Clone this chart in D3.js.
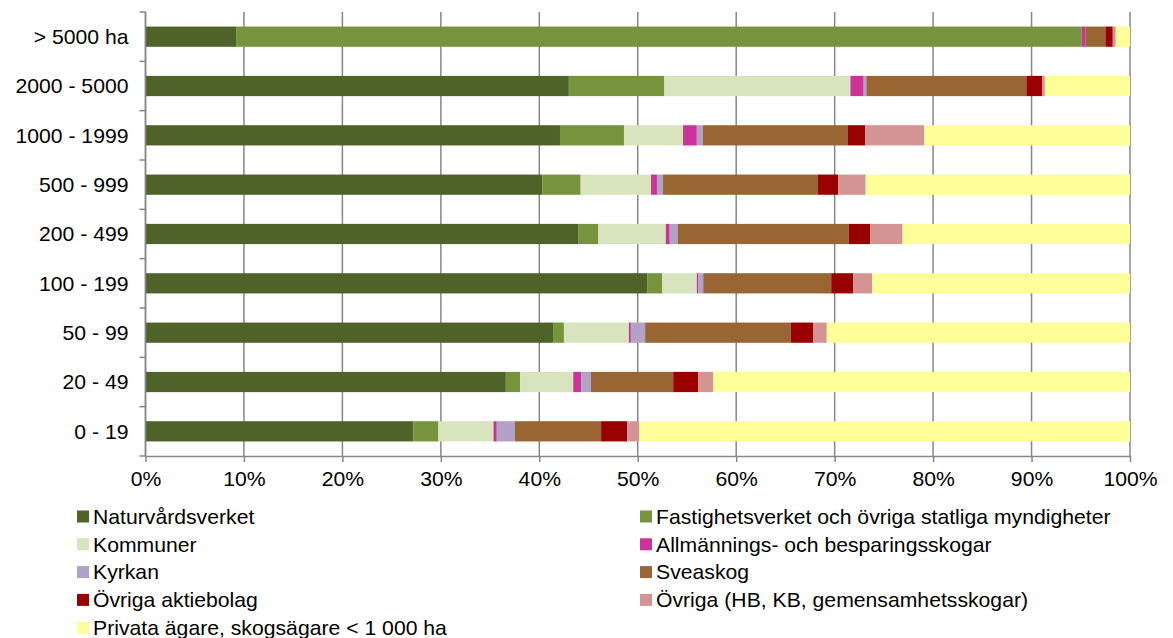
<!DOCTYPE html>
<html>
<head>
<meta charset="utf-8">
<script src="https://cdn.jsdelivr.net/npm/d3@7"></script>
<style>
  body { margin: 0; background: #fff; }
  svg text { font-family: "Liberation Sans", Arial, sans-serif; fill: #000; }
</style>
</head>
<body>
<div id="chart"></div>
<script>
// data (percent of area per size class)
const categories = ["> 5000 ha", "2000 - 5000", "1000 - 1999", "500 - 999", "200 - 499", "100 - 199", "50 - 99", "20 - 49", "0 - 19"];
const seriesNames = [
  "Naturvårdsverket",
  "Fastighetsverket och övriga statliga myndigheter",
  "Kommuner",
  "Allmännings- och besparingsskogar",
  "Kyrkan",
  "Sveaskog",
  "Övriga aktiebolag",
  "Övriga (HB, KB, gemensamhetsskogar)",
  "Privata ägare, skogsägare < 1 000 ha"
];
const naturvardsverket = [9.2, 43.0, 42.1, 40.3, 44.0, 51.0, 41.4, 36.6, 27.2];
const fastighetsverket = [85.9, 9.7, 6.5, 3.9, 2.0, 1.5, 1.1, 1.45, 2.55];
const kommuner        = [0, 18.9, 6.0, 7.15, 6.85, 3.5, 6.6, 5.4, 5.6];
const allmanningar    = [0.35, 1.35, 1.4, 0.6, 0.4, 0.17, 0.2, 0.8, 0.33];
const kyrkan          = [0, 0.27, 0.6, 0.6, 0.8, 0.48, 1.45, 1.0, 1.85];
const sveaskog        = [2.05, 16.25, 14.7, 15.75, 17.4, 13.0, 14.8, 8.35, 8.75];
const ovrigaAB        = [0.75, 1.6, 1.8, 2.05, 2.15, 2.25, 2.25, 2.55, 2.65];
const ovriga          = [0.3, 0.28, 6.0, 2.8, 3.3, 1.9, 1.4, 1.5, 1.2];
const privata         = [1.45, 8.65, 20.9, 26.85, 23.1, 26.2, 30.8, 42.35, 49.87];
const tickValues = [0, 0.1, 0.2, 0.3, 0.4, 0.5, 0.6, 0.7, 0.8, 0.9, 1];

const colors = ["#4f6228", "#77933c", "#d7e4bd", "#cc3399", "#b3a2c7", "#996633", "#990000", "#d49494", "#ffff99"];
const seriesValues = [naturvardsverket, fastighetsverket, kommuner, allmanningar, kyrkan, sveaskog, ovrigaAB, ovriga, privata];

// rows for d3.stack
const rows = categories.map((c, i) => {
  const r = { cat: c };
  seriesNames.forEach((s, j) => r[s] = seriesValues[j][i]);
  return r;
});

// measures
const W = 1173, H = 638;
const margin = { top: 12, left: 145.5, right: 43, bottom: 182 };
const width = W - margin.left - margin.right;
const height = H - margin.top - margin.bottom;
const fontSize = 20;
const stretch = 1.06; // the original text is a bit wider than Arial

const svg = d3.select("#chart")
  .append("svg")
    .attr("width", W)
    .attr("height", H);

const g = svg.append("g")
    .attr("transform", `translate(${margin.left},${margin.top})`);

const x = d3.scaleLinear().domain([0, 1]).range([0, width]);
const y = d3.scaleBand()
  .domain(categories)
  .range([0, height])
  .paddingInner(0.59)
  .paddingOuter(0.295);

// gridlines
g.append("g")
  .selectAll("line")
  .data(tickValues)
  .join("line")
    .attr("x1", d => x(d)).attr("x2", d => x(d))
    .attr("y1", 0).attr("y2", height)
    .attr("stroke", "#878787")
    .attr("stroke-width", 1.5);

// bars
const stacked = d3.stack().keys(seriesNames).offset(d3.stackOffsetExpand)(rows);
g.append("g")
  .selectAll("g")
  .data(stacked)
  .join("g")
    .attr("fill", (d, i) => colors[i])
  .selectAll("rect")
  .data(d => d)
  .join("rect")
    .attr("x", d => x(d[0]))
    .attr("y", d => y(d.data.cat))
    .attr("width", d => x(d[1]) - x(d[0]))
    .attr("height", y.bandwidth());

// bottom axis
const xAxis = g.append("g")
  .attr("transform", `translate(0,${height})`)
  .call(d3.axisBottom(x).tickValues(tickValues).tickFormat(d3.format(".0%")).tickSize(6).tickSizeOuter(0));
xAxis.select(".domain").attr("stroke", "#878787").attr("stroke-width", 1.5);
xAxis.selectAll(".tick line").attr("stroke", "#878787").attr("stroke-width", 1.5);
xAxis.selectAll(".tick text")
  .attr("font-size", fontSize + "px")
  .attr("font-family", "Liberation Sans, Arial, sans-serif")
  .attr("y", 0).attr("dy", 0)
  .attr("transform", `translate(0,30) scale(${stretch},1)`);

// left axis (ticks between categories)
const yAxis = g.append("g");
yAxis.append("line")
  .attr("x1", 0).attr("x2", 0).attr("y1", 0).attr("y2", height)
  .attr("stroke", "#878787").attr("stroke-width", 1.5);
yAxis.selectAll(".bt")
  .data(d3.range(categories.length + 1))
  .join("line")
    .attr("class", "bt")
    .attr("x1", -6).attr("x2", 0)
    .attr("y1", i => i * y.step()).attr("y2", i => i * y.step())
    .attr("stroke", "#878787").attr("stroke-width", 1.5);
yAxis.selectAll(".cl")
  .data(categories)
  .join("text")
    .attr("class", "cl")
    .attr("transform", d => `translate(-17,${y(d) + y.bandwidth() / 2}) scale(${stretch},1)`)
    .attr("dy", "0.36em")
    .attr("text-anchor", "end")
    .attr("font-size", fontSize + "px")
    .text(d => d);

// legend in two columns
const legend = svg.append("g");
const item = legend.selectAll("g")
  .data(seriesNames)
  .join("g")
    .attr("transform", (d, i) => `translate(${i % 2 === 0 ? 77 : 640},${516.5 + Math.floor(i / 2) * 27.8})`);
item.append("rect")
  .attr("x", 0).attr("y", -6)
  .attr("width", 12).attr("height", 12)
  .attr("fill", (d, i) => colors[i]);
item.append("text")
  .attr("transform", `translate(16,0) scale(${stretch},1)`)
  .attr("dy", "0.36em")
  .attr("font-size", fontSize + "px")
  .text(d => d);
</script>
</body>
</html>
